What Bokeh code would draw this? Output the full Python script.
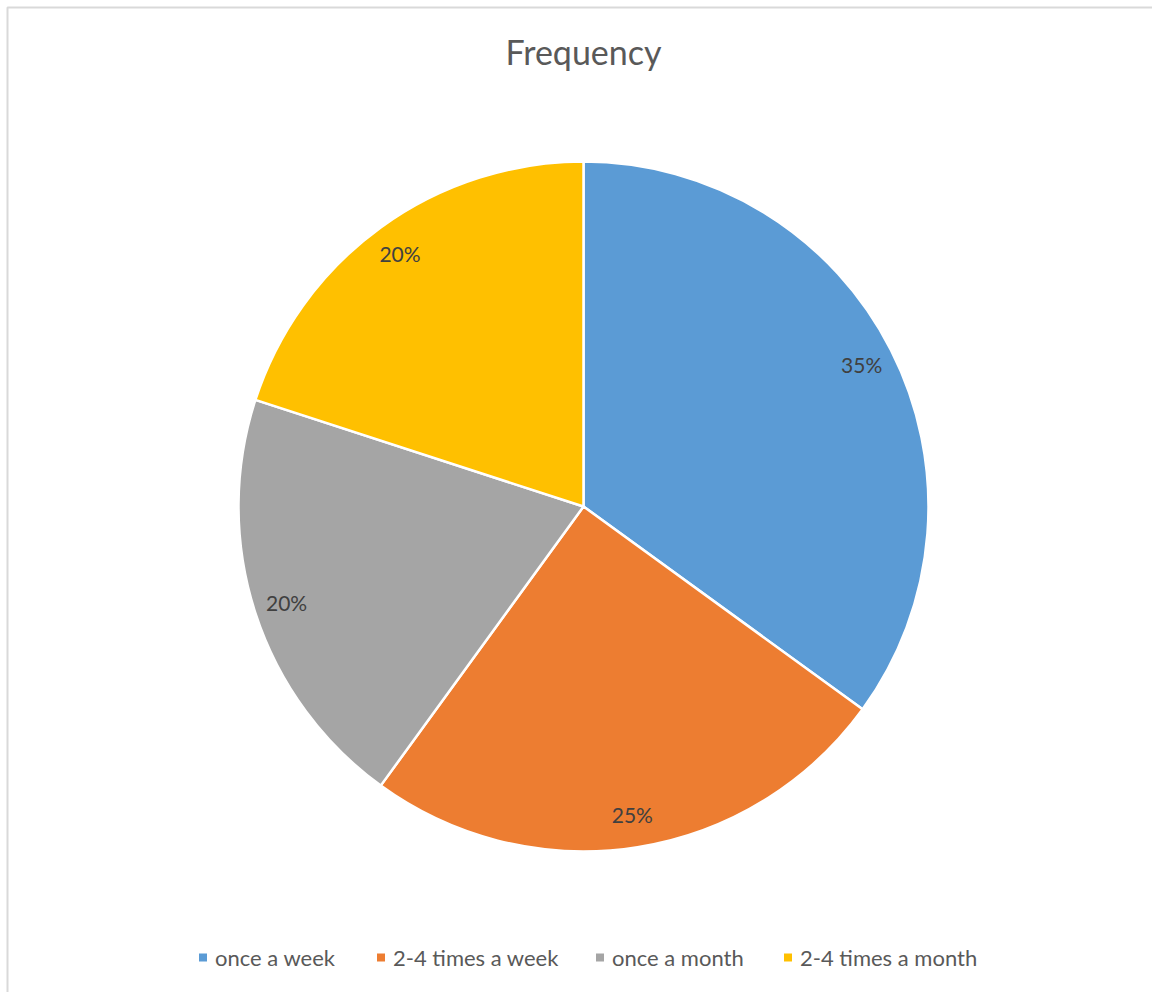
import numpy as np
from bokeh.plotting import figure
from bokeh.models import Range1d, ColumnDataSource
from bokeh.core.properties import value
from bokeh.embed import file_html
from bokeh.resources import INLINE

# --- data -----------------------------------------------------------------
title_text = "Frequency"
categories = ["once a week", "2-4 times a week", "once a month", "2-4 times a month"]
shares = [35, 25, 20, 20]  # percent
colors = ["#5B9BD5", "#ED7D31", "#A5A5A5", "#FFC000"]

# --- canvas (1 data unit == 1 pixel, y measured upward) -------------------
W, H = 1152, 992
FONT = "Lato"
TEXT_COLOR = "#595959"
LABEL_COLOR = "#404040"

p = figure(width=W, height=H, output_backend="svg", toolbar_location=None,
           x_range=Range1d(0, W), y_range=Range1d(0, H),
           x_axis_location=None, y_axis_location=None,
           min_border=0, outline_line_color=None,
           background_fill_color="white", border_fill_color="white")
p.grid.visible = False

def py(y_px):
    """Convert a top-down pixel row into the upward data coordinate."""
    return H - y_px

# chart area frame
p.quad(left=7, right=W + 10, top=py(7), bottom=-10,
       fill_color=None, line_color="#D9D9D9", line_width=2)

# --- pie ------------------------------------------------------------------
cx, cy, R = 583, py(506), 345
frac = np.array(shares, dtype=float) / np.sum(shares)
cum = np.concatenate([[0.0], np.cumsum(frac)])
start = np.pi / 2 - 2 * np.pi * cum[:-1]
end = np.pi / 2 - 2 * np.pi * cum[1:]
mid = (start + end) / 2

src = ColumnDataSource(dict(
    x=[cx] * len(shares), y=[cy] * len(shares),
    start=start, end=end, color=colors, name=categories,
    lx=cx + 0.905 * R * np.cos(mid), ly=cy + 0.905 * R * np.sin(mid),
    label=[f"{s}%" for s in shares],
))

p.wedge(x="x", y="y", radius=R, start_angle="start", end_angle="end",
        direction="clock", fill_color="color", line_color="white",
        line_width=2.5, source=src)

p.text(x="lx", y="ly", text="label", source=src,
       text_font=value(FONT), text_font_size="21px", text_color=LABEL_COLOR,
       text_align="center", text_baseline="middle")

# --- title ----------------------------------------------------------------
p.text(x=[583], y=[py(51)], text=[title_text], text_font=value(FONT),
       text_font_size="34px", text_color=TEXT_COLOR,
       text_align="center", text_baseline="middle")

# --- legend ---------------------------------------------------------------
legend_x = [202.5, 380.5, 599.5, 787.5]
legend_y = py(957)
leg = ColumnDataSource(dict(
    x=legend_x, y=[legend_y] * len(categories), color=colors,
    tx=[x + 12 for x in legend_x], name=categories,
))
p.scatter(x="x", y="y", marker="square", size=8, fill_color="color",
          line_color=None, source=leg)
p.text(x="tx", y="y", text="name", source=leg, text_font=value(FONT),
       text_font_size="22px", text_color=TEXT_COLOR,
       text_align="left", text_baseline="middle")

open("out.html", "w").write(file_html(p, INLINE))
